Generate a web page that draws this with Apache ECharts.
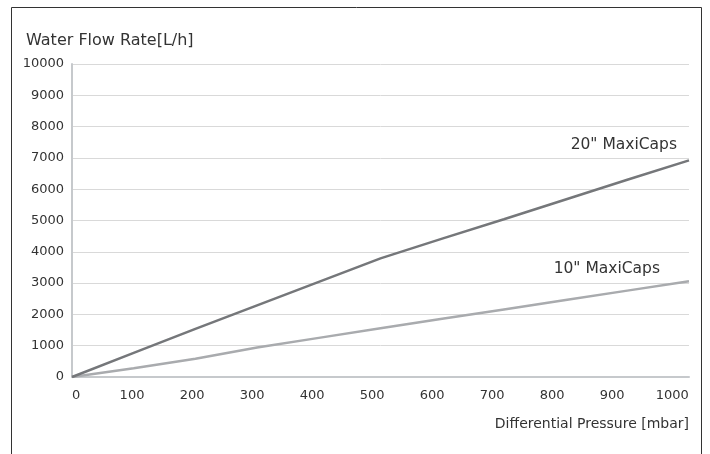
<!DOCTYPE html>
<html>
<head>
<meta charset="utf-8">
<script src="https://cdn.jsdelivr.net/npm/echarts@6/dist/echarts.min.js"></script>
<style>
html,body{margin:0;padding:0;background:#fff;}
#chart{width:710px;height:454px;}
</style>
</head>
<body>
<div id="chart"></div>
<script>
var pressure20 = [0, 100, 200, 300, 400, 500, 600, 700, 800, 900, 1000];
var flow20 = [0, 770, 1540, 2290, 3040, 3790, 4420, 5040, 5670, 6300, 6920];
var pressure10 = [0, 100, 200, 300, 400, 500, 600, 700, 800, 900, 1000];
var flow10 = [0, 280, 580, 940, 1250, 1560, 1860, 2160, 2460, 2760, 3060];
var xTickLabels = [0, 100, 200, 300, 400, 500, 600, 700, 800, 900, 1000];
var seriesNames = ['20" MaxiCaps', '10" MaxiCaps'];
var yTitle = 'Water Flow Rate[L/h]';
var xTitle = 'Differential Pressure [mbar]';
var FONT = 'DejaVu Sans';
var TXT = '#333';

function pairs(xs, ys, name, off) {
  return xs.map(function (x, i) {
    var item = { value: [x, ys[i]] };
    if (i === xs.length - 1) {
      item.label = { show: true, formatter: name, position: 'top', align: 'right', offset: off,
        color: TXT, fontSize: 15.5, fontFamily: FONT };
    }
    return item;
  });
}

var chart = echarts.init(document.getElementById('chart'));
chart.setOption({
  animation: false,
  textStyle: { fontFamily: FONT },
  title: [
    { text: yTitle, left: 26, top: 33, padding: 0,
      textStyle: { fontSize: 16, fontWeight: 'normal', color: TXT, fontFamily: FONT } },
    { text: xTitle, right: 21, top: 417, padding: 0,
      textStyle: { fontSize: 14, fontWeight: 'normal', color: TXT, fontFamily: FONT } }
  ],
  graphic: [{
    type: 'rect', shape: { x: 11.5, y: 7.5, width: 690, height: 460 },
    style: { fill: 'none', stroke: '#333', lineWidth: 1 }, silent: true, z: -1
  }],
  grid: { left: 72, right: 21, top: 64, bottom: 77, containLabel: false },
  xAxis: [{
    type: 'value', min: 0, max: 1000, interval: 100,
    axisLine: { show: true, lineStyle: { color: '#c6c9cc', width: 2 } },
    axisTick: { show: false },
    splitLine: { show: false },
    axisLabel: { show: false }
  }, {
    type: 'value', position: 'bottom', min: 0, max: 1028, interval: 100,
    axisLine: { show: false }, axisTick: { show: false }, splitLine: { show: false },
    axisLabel: { color: TXT, fontSize: 13, margin: 12, fontFamily: FONT,
      alignMinLabel: 'left', customValues: xTickLabels,
      formatter: function (v) { return xTickLabels.indexOf(v) >= 0 ? String(v) : ''; } }
  }],
  yAxis: {
    type: 'value', min: 0, max: 10000, interval: 1000,
    axisLine: { show: true, lineStyle: { color: '#c6c9cc', width: 2 } },
    axisTick: { show: false },
    splitLine: { show: true, lineStyle: { color: '#d9d9d9', width: 1 } },
    axisLabel: { color: TXT, fontSize: 13, margin: 8, fontFamily: FONT,
      formatter: function (v) { return String(v); } }
  },
  series: [
    { name: seriesNames[0], type: 'line', xAxisIndex: 0, showSymbol: true, symbol: 'circle', symbolSize: 0,
      lineStyle: { color: '#75777a', width: 2.5 }, itemStyle: { color: '#75777a' },
      data: pairs(pressure20, flow20, seriesNames[0], [-12, -2]), z: 3 },
    { name: seriesNames[1], type: 'line', xAxisIndex: 0, showSymbol: true, symbol: 'circle', symbolSize: 0,
      lineStyle: { color: '#a9abae', width: 2.5 }, itemStyle: { color: '#a9abae' },
      data: pairs(pressure10, flow10, seriesNames[1], [-29, 1]), z: 2 }
  ]
});
</script>
</body>
</html>
